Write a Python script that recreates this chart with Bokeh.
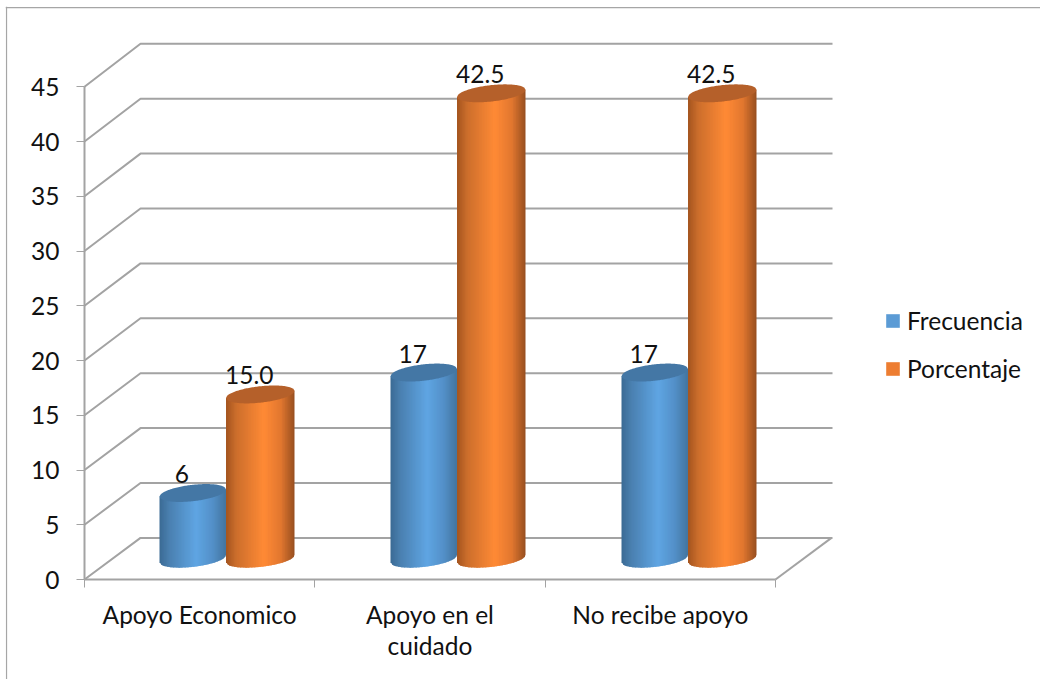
from bokeh.core.properties import value
from bokeh.embed import file_html
from bokeh.models import (ColumnDataSource, FixedTicker, Legend, LegendItem,
                          Range1d, Span)
from bokeh.plotting import figure
from bokeh.resources import INLINE

# Chart values
categories = ["Apoyo Economico", "Apoyo en el\ncuidado", "No recibe apoyo"]
frecuencia = [6, 17, 17]
porcentaje = [15.0, 42.5, 42.5]
frecuencia_labels = ["6", "17", "17"]
porcentaje_labels = ["15.0", "42.5", "42.5"]
y_ticks = [0, 5, 10, 15, 20, 25, 30, 35, 40, 45]

# Scale: one category is 230.33 px wide, one value unit is 10.95 px tall
PX_X, PX_Y = 230.33, 10.95
ORIGIN_X, ORIGIN_Y, W, H = 84, 579, 1040, 679
FRAME_LEFT, FRAME_TOP = 5, 6

# Oblique depth of the box, in data units
DEPTH_X, DEPTH_Y = 56 / PX_X, 41.6 / PX_Y
BACK_STRETCH = 1.0027
END_X = 748 / PX_X

# Cylinder shape
BLUE_W, ORANGE_W = 66.5 / PX_X, 68.5 / PX_X
GROUP_STEP = 231 / PX_X
BAR_LIFT = 1.9
CAP_B = 8.2 / PX_Y
CAP_TILT = 3.6 / PX_Y
STRIPS = 44

FONT = "Lato"
TEXT_SIZE = "24.5px"
TEXT_COLOR = "#111111"
AXIS_COLOR = "#a3a3a3"

BLUE_STOPS = [(0, "#3b6a94"), (.15, "#4a80b0"), (.55, "#5fa5e3"), (.8, "#5390c8"), (1, "#43749f")]
ORANGE_STOPS = [(0, "#a3541f"), (.15, "#cc6e2c"), (.55, "#ff8a35"), (.8, "#e2772f"), (1, "#974f20")]
BLUE_CAP, ORANGE_CAP = "#4477a5", "#b5602a"
BLUE_KEY, ORANGE_KEY = "#5b9bd5", "#ed7d31"


def shade(stops, t):
    for (t0, c0), (t1, c1) in zip(stops, stops[1:]):
        if t <= t1:
            k = (t - t0) / (t1 - t0)
            rgb = [round(int(c0[i:i + 2], 16) * (1 - k) + int(c1[i:i + 2], 16) * k) for i in (1, 3, 5)]
            return "#%02x%02x%02x" % tuple(rgb)
    return stops[-1][1]


def bulge(u):
    return CAP_B * max(0.0, 1 - u * u) ** 0.5


def cylinder(p, xc, width, val, stops, cap):
    """Draws one shaded cylinder as thin vertical strips plus an elliptical lid."""
    hw = width / 2
    top = BAR_LIFT + val
    xs, ys, colors = [], [], []
    for i in range(STRIPS):
        u0 = -1 + 2 * i / STRIPS
        u1 = min(1.0, u0 + 2 * 1.6 / STRIPS)
        xs.append([xc + u0 * hw, xc + u1 * hw, xc + u1 * hw, xc + u0 * hw])
        ys.append([BAR_LIFT + CAP_TILT * u0 - bulge(u0), BAR_LIFT + CAP_TILT * u1 - bulge(u1),
                   top + CAP_TILT * u1, top + CAP_TILT * u0])
        colors.append(shade(stops, (i + .5) / STRIPS))
    p.patches(xs, ys, fill_color=colors, line_color=None)
    lid = [-1 + 2 * i / 60 for i in range(61)]
    lid_x = [xc + u * hw for u in lid] + [xc + u * hw for u in reversed(lid)]
    lid_y = [top + CAP_TILT * u + bulge(u) for u in lid] + [top + CAP_TILT * u - bulge(u) for u in reversed(lid)]
    p.patch(lid_x, lid_y, fill_color=cap, line_color=None)


x_start = (FRAME_LEFT - ORIGIN_X) / PX_X
y_end = (ORIGIN_Y - FRAME_TOP) / PX_Y
p = figure(width=W, height=H, output_backend="svg", toolbar_location=None,
           x_range=Range1d(x_start, (W - ORIGIN_X) / PX_X),
           y_range=Range1d((ORIGIN_Y - H) / PX_Y, y_end),
           min_border_left=FRAME_LEFT, min_border_right=0, min_border_top=FRAME_TOP, min_border_bottom=0)
p.outline_line_color = None
p.grid.visible = False
p.background_fill_color = "white"
p.border_fill_color = "white"

# Chart area border: only the left and top edges fall inside the page
p.add_layout(Span(location=x_start + 1 / PX_X, dimension="height", line_color="#a6a6a6", line_width=1.25))
p.add_layout(Span(location=y_end - 1 / PX_Y, dimension="width", line_color="#a6a6a6", line_width=1.25))

# Walls and floor of the box
for v in y_ticks:
    back = DEPTH_Y + v * BACK_STRETCH
    p.line([0, DEPTH_X, END_X], [v, back, back], line_color=AXIS_COLOR, line_width=2)
p.line([3, 3 + DEPTH_X], [0, DEPTH_Y], line_color=AXIS_COLOR, line_width=2)

# Axes sit inside the frame, at the front edges of the box
ax = p.yaxis[0]
ax.fixed_location = 0
ax.ticker = FixedTicker(ticks=y_ticks)
ax.bounds = (0, 45)
ax.axis_line_color = AXIS_COLOR
ax.axis_line_width = 2
ax.major_tick_in = 0
ax.major_tick_out = 8
ax.major_tick_line_color = AXIS_COLOR
ax.major_tick_line_width = 1
ax.minor_tick_line_color = None
ax.major_label_standoff = 17
ax.major_label_text_font = FONT
ax.major_label_text_font_size = TEXT_SIZE
ax.major_label_text_color = TEXT_COLOR

bx = p.xaxis[0]
bx.fixed_location = 0
bx.ticker = FixedTicker(ticks=[i + .5 for i in range(3)], minor_ticks=[0, 1, 2, 3])
bx.major_label_overrides = {i + .5: c for i, c in enumerate(categories)}
bx.bounds = (0, 3)
bx.axis_line_color = AXIS_COLOR
bx.axis_line_width = 2
bx.major_tick_line_color = None
bx.major_tick_in = 0
bx.major_tick_out = 0
bx.minor_tick_in = 0
bx.minor_tick_out = 8
bx.minor_tick_line_color = AXIS_COLOR
bx.minor_tick_line_width = 1
bx.major_label_standoff = 12
bx.major_label_text_font = FONT
bx.major_label_text_font_size = TEXT_SIZE
bx.major_label_text_color = TEXT_COLOR
bx.major_label_text_line_height = 1.08

# Cylinders and their value labels
label_x, label_y, label_text = [], [], []
for i in range(3):
    split = (225.5 - ORIGIN_X) / PX_X + i * GROUP_STEP
    cylinder(p, split - BLUE_W / 2, BLUE_W, frecuencia[i], BLUE_STOPS, BLUE_CAP)
    cylinder(p, split + ORANGE_W / 2, ORANGE_W, porcentaje[i], ORANGE_STOPS, ORANGE_CAP)
    label_x += [split - BLUE_W / 2, split + ORANGE_W / 2]
    label_y += [BAR_LIFT + frecuencia[i], BAR_LIFT + porcentaje[i]]
    label_text += [frecuencia_labels[i], porcentaje_labels[i]]

p.text(x="x", y="y", text="t", source=ColumnDataSource(dict(x=label_x, y=label_y, t=label_text)),
       text_font=value(FONT), text_font_size=TEXT_SIZE, text_color=TEXT_COLOR,
       text_align="center", text_baseline="middle", x_offset=-11, y_offset=-19)

# Legend keys take their colour from glyphs with no visible extent
nan = float("nan")
key_a = p.vbar(x=[nan], top=[nan], width=.1, fill_color=BLUE_KEY, line_color=None)
key_b = p.vbar(x=[nan], top=[nan], width=.1, fill_color=ORANGE_KEY, line_color=None)
legend = Legend(items=[LegendItem(label="Frecuencia", renderers=[key_a]),
                       LegendItem(label="Porcentaje", renderers=[key_b])],
                location=(884 - FRAME_LEFT, H - 383), orientation="vertical",
                glyph_width=17, glyph_height=17, label_standoff=6, spacing=19,
                padding=0, margin=0, border_line_color=None, background_fill_alpha=0,
                label_text_font=FONT, label_text_font_size=TEXT_SIZE, label_text_color=TEXT_COLOR)
p.add_layout(legend)

open("out.html", "w").write(file_html(p, INLINE))
